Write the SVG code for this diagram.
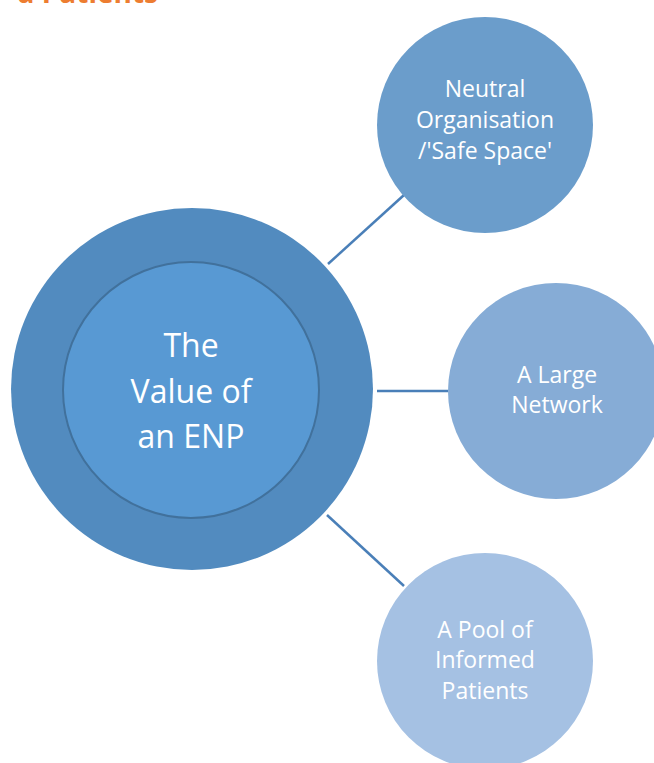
<svg xmlns="http://www.w3.org/2000/svg" width="654" height="763" viewBox="0 0 654 763">
<style>
.t{font-family:"Open Sans","Noto Sans",sans-serif;fill:#ffffff;text-anchor:middle}
.big{font-size:32px}
.sm{font-size:23px}
.conn{stroke:#4a7fb8;stroke-width:2.5;fill:none}
</style>
<rect width="654" height="763" fill="#ffffff"/>
<text x="158" y="3" font-family="'Open Sans',sans-serif" font-weight="bold" font-size="28" fill="#ed7d31" text-anchor="end">d Patients</text>
<g id="connectors">
<line class="conn" x1="328" y1="264" x2="404" y2="195"/>
<line class="conn" x1="377" y1="391" x2="448" y2="391"/>
<line class="conn" x1="327" y1="515" x2="404" y2="586"/>
</g>
<g id="center">
<circle cx="192" cy="389" r="181" fill="#528bbf"/>
<circle cx="191" cy="390" r="128" fill="#5899d3" stroke="#41719c" stroke-width="2"/>
<text class="t big" x="191" y="357">The</text>
<text class="t big" x="191" y="403">Value of</text>
<text class="t big" x="191" y="448">an ENP</text>
</g>
<g id="node-neutral">
<circle cx="485" cy="125" r="108" fill="#6b9dcb"/>
<text class="t sm" x="485" y="97">Neutral</text>
<text class="t sm" x="485" y="128">Organisation</text>
<text class="t sm" x="485" y="159">/'Safe Space'</text>
</g>
<g id="node-network">
<circle cx="556" cy="391" r="108" fill="#86acd6"/>
<text class="t sm" x="557" y="383">A Large</text>
<text class="t sm" x="557" y="413">Network</text>
</g>
<g id="node-pool">
<circle cx="485" cy="661" r="108" fill="#a5c1e3"/>
<text class="t sm" x="485" y="638">A Pool of</text>
<text class="t sm" x="485" y="668">Informed</text>
<text class="t sm" x="485" y="699">Patients</text>
</g>
</svg>
